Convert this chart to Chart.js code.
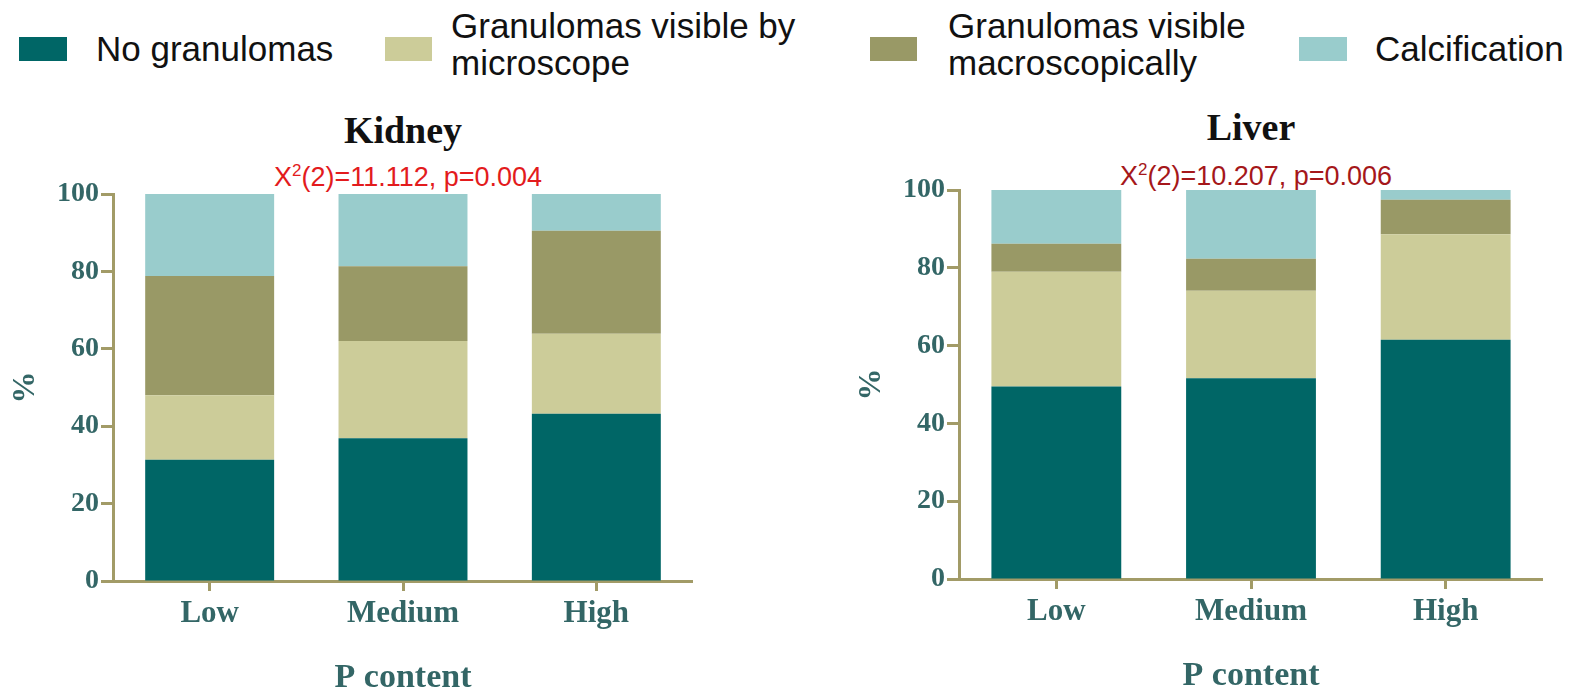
<!DOCTYPE html>
<html>
<head>
<meta charset="utf-8">
<script src="https://cdn.jsdelivr.net/npm/chart.js@4.4.1/dist/chart.umd.min.js"></script>
<style>
  html, body { margin: 0; padding: 0; background: #ffffff; overflow: hidden; }
  #page { position: relative; width: 1587px; height: 690px; background: #ffffff; }
  .sw { position: absolute; top: 37px; height: 24px; }
  .lg { position: absolute; font-family: 'Liberation Sans', Arial, sans-serif; font-size: 35px;
        line-height: 35px; color: #111111; white-space: nowrap; }
  .lg.two { line-height: 37px; }
  .ttl { position: absolute; font-family: 'Liberation Serif', 'Times New Roman', serif; font-weight: bold;
         font-size: 38px; line-height: 38px; color: #111111; white-space: nowrap; transform: translateX(-50%); }
  .stat { position: absolute; font-family: 'Liberation Sans', Arial, sans-serif; font-size: 27px;
          line-height: 27px; white-space: nowrap; transform: translateX(-50%); }
  .stat sup { font-size: 17px; vertical-align: 0; position: relative; top: -10px; }
  canvas { position: absolute; }
</style>
</head>
<body>
<div id="page">
  <!-- legend -->
  <div class="sw" style="left:19px;width:48px;background:#006666"></div>
  <div class="lg" style="left:96px;top:31px">No granulomas</div>
  <div class="sw" style="left:385px;width:47px;background:#cccc99"></div>
  <div class="lg two" style="left:451px;top:7px">Granulomas visible by<br>microscope</div>
  <div class="sw" style="left:870px;width:47px;background:#999966"></div>
  <div class="lg two" style="left:948px;top:7px">Granulomas visible<br>macroscopically</div>
  <div class="sw" style="left:1299px;width:48px;background:#99cccc"></div>
  <div class="lg" style="left:1375px;top:31px">Calcification</div>

  <!-- panel titles and test statistics -->
  <div class="ttl" style="left:403px;top:111px">Kidney</div>
  <div class="stat" style="left:408px;top:164px;color:#e31b1d">X<sup>2</sup>(2)=11.112, p=0.004</div>
  <div class="ttl" style="left:1251px;top:108px">Liver</div>
  <div class="stat" style="left:1256px;top:163px;color:#a5171a">X<sup>2</sup>(2)=10.207, p=0.006</div>

  <canvas id="kidney" width="693" height="540" style="left:0px;top:150px"></canvas>
  <canvas id="liver" width="697" height="540" style="left:846px;top:150px"></canvas>
</div>

<script>
// P content groups
const categories = ['Low', 'Medium', 'High'];
const seriesNames = ['No granulomas', 'Granulomas visible by microscope',
                     'Granulomas visible macroscopically', 'Calcification'];
const seriesColors = ['#006666', '#cccc99', '#999966', '#99cccc'];

// Kidney (% of animals)
const kidneyNone  = [31.3, 36.9, 43.2];
const kidneyMicro = [16.7, 25.1, 20.7];
const kidneyMacro = [30.8, 19.3, 26.6];
const kidneyCalc  = [21.2, 18.7, 9.5];

// Liver (% of animals)
const liverNone  = [49.5, 51.6, 61.5];
const liverMicro = [29.5, 22.5, 27.1];
const liverMacro = [7.2, 8.2, 8.9];
const liverCalc  = [13.8, 17.7, 2.5];

const yTicks = [0, 20, 40, 60, 80, 100];

const axisColor = '#a29b67';
const labelColor = '#336666';
const serif = "'Liberation Serif', 'Times New Roman', serif";

function makePanel(id, seriesValues, pad) {
  const datasets = seriesValues.map((vals, i) => ({
    label: seriesNames[i],
    data: vals,
    backgroundColor: seriesColors[i],
    borderWidth: 0,
    barPercentage: 0.667,
    categoryPercentage: 1.0
  }));
  return new Chart(document.getElementById(id), {
    type: 'bar',
    data: { labels: categories, datasets },
    options: {
      responsive: false,
      animation: false,
      devicePixelRatio: 1,
      layout: { padding: pad },
      plugins: { legend: { display: false }, tooltip: { enabled: false }, title: { display: false } },
      scales: {
        x: {
          stacked: true,
          offset: true,
          grid: { display: true, offset: false, drawOnChartArea: false, drawTicks: true,
                  tickLength: 10, tickWidth: 3, tickColor: axisColor },
          border: { display: true, color: axisColor, width: 3 },
          ticks: { color: labelColor, padding: 4, maxRotation: 0,
                   font: { family: serif, size: 31, weight: 'bold', lineHeight: 1.2 } },
          title: { display: true, text: 'P content', color: labelColor, padding: { top: 0, bottom: 0 },
                   font: { family: serif, size: 34, weight: 'bold', lineHeight: 0.72 } },
          afterFit: s => { s.height = 109; }
        },
        y: {
          stacked: true,
          min: 0,
          max: 100,
          afterBuildTicks: s => { s.ticks = yTicks.map(v => ({ value: v })); },
          grid: { display: true, drawOnChartArea: false, drawTicks: true,
                  tickLength: 12, tickWidth: 3, tickColor: axisColor },
          border: { display: true, color: axisColor, width: 3 },
          ticks: { color: labelColor, padding: 2,
                   font: { family: serif, size: 28, weight: 'bold', lineHeight: 1.2 } },
          title: { display: true, text: '%', color: labelColor, padding: { top: 10, bottom: 0 },
                   font: { family: serif, size: 32, weight: 'bold', lineHeight: 1 } },
          afterFit: s => { s.width = 113; }
        }
      }
    }
  });
}

makePanel('kidney', [kidneyNone, kidneyMicro, kidneyMacro, kidneyCalc],
          { top: 44, bottom: 0, left: 0, right: 0 });
makePanel('liver', [liverNone, liverMicro, liverMacro, liverCalc],
          { top: 40, bottom: 2, left: 0, right: 0 });
</script>
</body>
</html>
